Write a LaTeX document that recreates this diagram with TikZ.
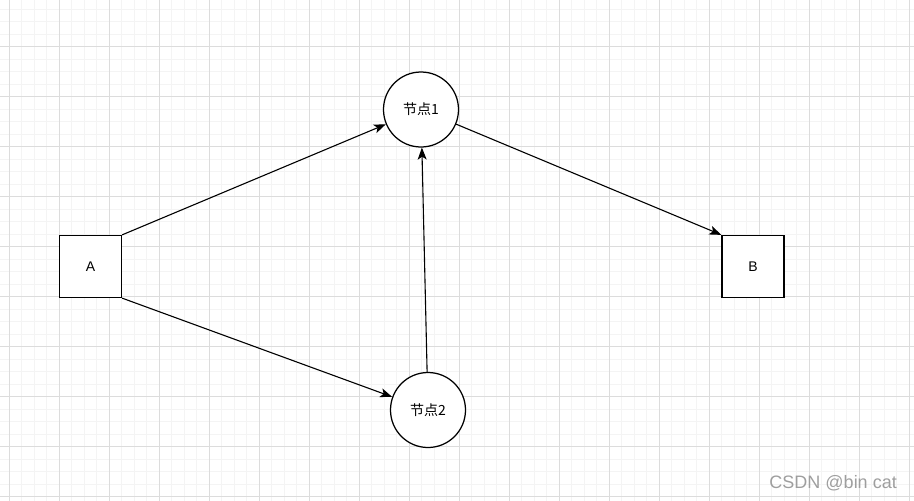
\documentclass[tikz,border=0pt]{standalone}
\usepackage{fontspec}
\setmainfont{Liberation Sans}
\newfontfamily\cjk{Noto Sans CJK SC}
\usetikzlibrary{arrows.meta}
\definecolor{gridminor}{HTML}{F4F4F4}
\definecolor{gridmajor}{HTML}{DCDCDC}
\definecolor{markgray}{HTML}{9E9E9E}

\begin{document}
\begin{tikzpicture}[x=1pt, y=-1pt, font=\fontsize{14}{16}\selectfont]
    \tikzstyle{box}=[draw, fill=white, line width=1.25pt, minimum size=62pt, inner sep=0pt]
    \tikzstyle{state}=[draw, fill=white, circle, line width=1.25pt, minimum size=75pt, inner sep=0pt, font=\cjk\fontsize{14}{16}\selectfont]
    \tikzstyle{edge}=[-{Stealth[length=12pt,width=9pt,inset=3pt]}, line width=1.1pt]
    \useasboundingbox (0,0) rectangle (914,501);
    % grid
    \foreach \i in {0,...,72} \draw[gridminor, line width=0.9pt] ({9.3+12.5*\i},0) -- ({9.3+12.5*\i},501);
    \foreach \i in {0,...,39} \draw[gridminor, line width=0.9pt] (0,{9.4+12.5*\i}) -- (914,{9.4+12.5*\i});
    \foreach \i in {0,...,18} \draw[gridmajor, line width=1pt] ({9.3+50*\i},0) -- ({9.3+50*\i},501);
    \foreach \i in {0,...,9} \draw[gridmajor, line width=1pt] (0,{46.9+50*\i}) -- (914,{46.9+50*\i});
    % nodes
    \node[box] (A) at (90.5,266.5) {A};
    \node[box] (B) at (753,266.5) {B};
    \node[state] (n1) at (421,109.5) {节点1};
    \node[state] (n2) at (428,410) {节点2};
    \draw[edge] (A.north east) -- (n1);
    \draw[edge] (A.south east) -- (n2);
    \draw[edge] (n2) -- (n1);
    \draw[edge] (n1) -- (B.north west);
    \node[anchor=east, inner sep=0pt, text=markgray, font=\fontsize{18}{20}\selectfont] (wm) at (897,483) {CSDN @bin cat};
\end{tikzpicture}
\end{document}
